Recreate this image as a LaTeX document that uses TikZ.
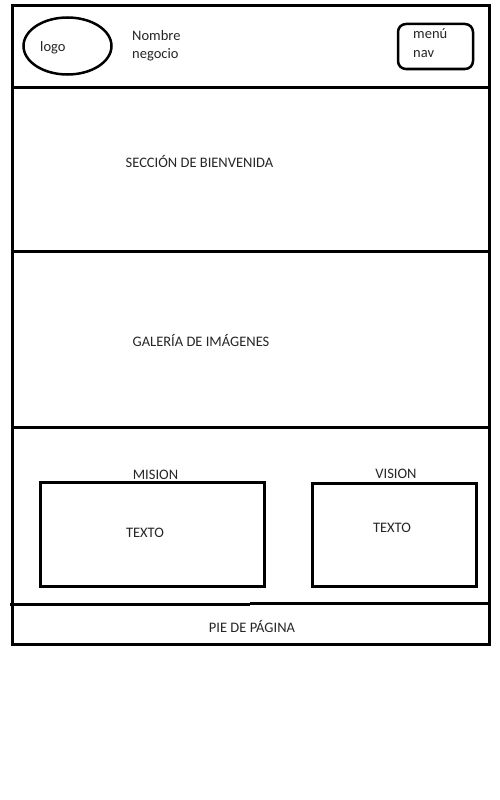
\documentclass[tikz,border=0pt]{standalone}
\usepackage{fontspec}
\setmainfont{Carlito}
\usetikzlibrary{shapes.geometric}
\begin{document}
\begin{tikzpicture}[x=1pt,y=-1pt,
  frame/.style={draw=black,line width=3pt},
  lbl/.style={font=\fontsize{14.5}{17}\selectfont,text=black!85,inner sep=0pt},
  lbll/.style={lbl,anchor=west,align=left}]
\useasboundingbox[fill=white] (0,0) rectangle (500,800);
% outer frame and section lines
\draw[frame] (12,6) rectangle (489,644);
\draw[frame] (12,87) -- (489,87);
\draw[frame] (12,251) -- (489,251);
\draw[frame] (12,427) -- (489,427);
\draw[frame] (10,604) -- (250,604);
\draw[frame] (250,603) -- (489,603);
% header
\node[draw,ellipse,line width=2.5pt,minimum width=88pt,minimum height=57pt,inner sep=0pt] (logo) at (67.5,46) {};
\node[lbll] (logotxt) at (40,47.5) {logo};
\node[lbll,font=\fontsize{14.5}{18}\selectfont] (nombre) at (132,46) {Nombre\\negocio};
\node[draw,rounded corners=8pt,line width=2.5pt,minimum width=75pt,minimum height=45pt,inner sep=0pt] (menu) at (435.5,46.5) {};
\node[lbll,font=\fontsize{14.5}{19}\selectfont] (menutxt) at (413,43) {menú\\nav};
% sections
\node[lbl] (bienvenida) at (199.5,161.5) {SECCIÓN DE BIENVENIDA};
\node[lbl] (galeria) at (201,340.5) {GALERÍA DE IMÁGENES};
% mision / vision
\node[lbl] (mision) at (155.5,474.5) {MISION};
\node[draw,line width=3pt,minimum width=224pt,minimum height=104pt,inner sep=0pt] (mbox) at (152.5,534.5) {};
\node[lbl] (mtexto) at (145,532.5) {TEXTO};
\node[lbl] (vision) at (396,473.5) {VISION};
\node[draw,line width=3pt,minimum width=164pt,minimum height=103pt,inner sep=0pt] (vbox) at (394.5,535) {};
\node[lbl] (vtexto) at (392,527.5) {TEXTO};
% footer
\node[lbl] (pie) at (252,626.5) {PIE DE PÁGINA};
\end{tikzpicture}
\end{document}
